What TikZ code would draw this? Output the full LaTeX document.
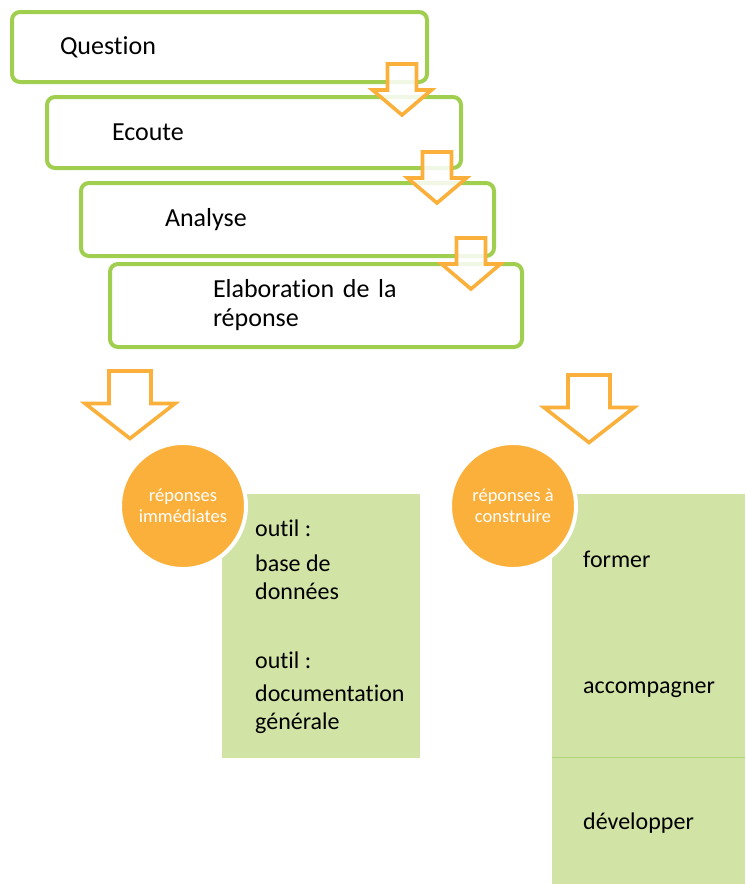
\documentclass[tikz,border=0pt]{standalone}
\usepackage{fontspec}
\setmainfont{Carlito}[Ligatures={NoCommon}]
\usepackage{xcolor}

\definecolor{boxgreen}{RGB}{160,206,78}
\definecolor{palegreen}{RGB}{209,227,165}
\definecolor{lineg}{RGB}{176,212,120}
\definecolor{orangefill}{RGB}{251,176,59}

\tikzset{
    stepbox/.style={draw=boxgreen, line width=4pt, rounded corners=8pt, fill=white,
        align=left, inner ysep=0pt, font=\fontsize{26}{29}\selectfont},
    blockarrow/.style={draw=orangefill, line width=3.6pt, line join=miter,
        fill=white, fill opacity=0.85},
    answer/.style={circle, fill=orangefill, draw=white, line width=4pt,
        minimum size=126pt, inner sep=0pt, align=center, text=white,
        font=\fontsize{18.5}{21}\selectfont},
    toolbox/.style={fill=palegreen},
    tooltext/.style={anchor=west, inner sep=0pt, align=left,
        font=\fontsize{24}{28}\selectfont}
}

\begin{document}
\begin{tikzpicture}[x=1pt, y=-1pt]
    \useasboundingbox (0,0) rectangle (745,884);

    % Steps
    \node[stepbox, minimum width=415pt, minimum height=70pt, inner xsep=48pt, text width=319pt]
        (question) at (219.5,47) {Question};
    \node[stepbox, minimum width=414pt, minimum height=71pt, inner xsep=65pt, text width=284pt]
        (ecoute) at (254,132.5) {Ecoute};
    \node[stepbox, minimum width=413pt, minimum height=73pt, inner xsep=84pt, text width=245pt]
        (analyse) at (287.5,219.5) {Analyse};
    \node[stepbox, minimum width=412pt, minimum height=83pt, inner xsep=103pt, text width=206pt]
        (elaboration) at (316,305.5) {Elaboration de la r\'eponse};

    % Small arrows between the steps
    \foreach \cx/\ty in {402/64, 437/152, 471/238}
        \draw[blockarrow] (\cx-14.5,\ty) -- (\cx+14.5,\ty) -- (\cx+14.5,\ty+26)
            -- (\cx+29.5,\ty+26) -- (\cx,\ty+51) -- (\cx-29.5,\ty+26)
            -- (\cx-14.5,\ty+26) -- cycle;

    % Big arrows
    \foreach \cx/\ty in {130/371, 589/375}
        \draw[blockarrow] (\cx-21,\ty) -- (\cx+21,\ty) -- (\cx+21,\ty+32.5)
            -- (\cx+45,\ty+32.5) -- (\cx,\ty+67.5) -- (\cx-45,\ty+32.5)
            -- (\cx-21,\ty+32.5) -- cycle;

    % Tool boxes
    \fill[toolbox] (222,494) rectangle (420,758);
    \fill[toolbox] (552,494) rectangle (745,884);
    \draw[lineg, line width=1pt] (552,757) -- (745,757);

    \node[tooltext] (outil1) at (255,528) {outil :};
    \node[tooltext] (base) at (255,577) {base de\\donn\'ees};
    \node[tooltext] (outil2) at (255,660) {outil :};
    \node[tooltext] (doc) at (255,709) {documentation\\g\'en\'erale};

    \node[tooltext] (former) at (583,559) {former};
    \node[tooltext] (accomp) at (583,690) {accompagner};
    \node[tooltext] (dev) at (583,823) {d\'evelopper};

    % Answers
    \node[answer] (immediate) at (183,506) {r\'eponses\\imm\'ediates};
    \node[answer] (construire) at (513,506) {r\'eponses \`a\\construire};
\end{tikzpicture}
\end{document}
